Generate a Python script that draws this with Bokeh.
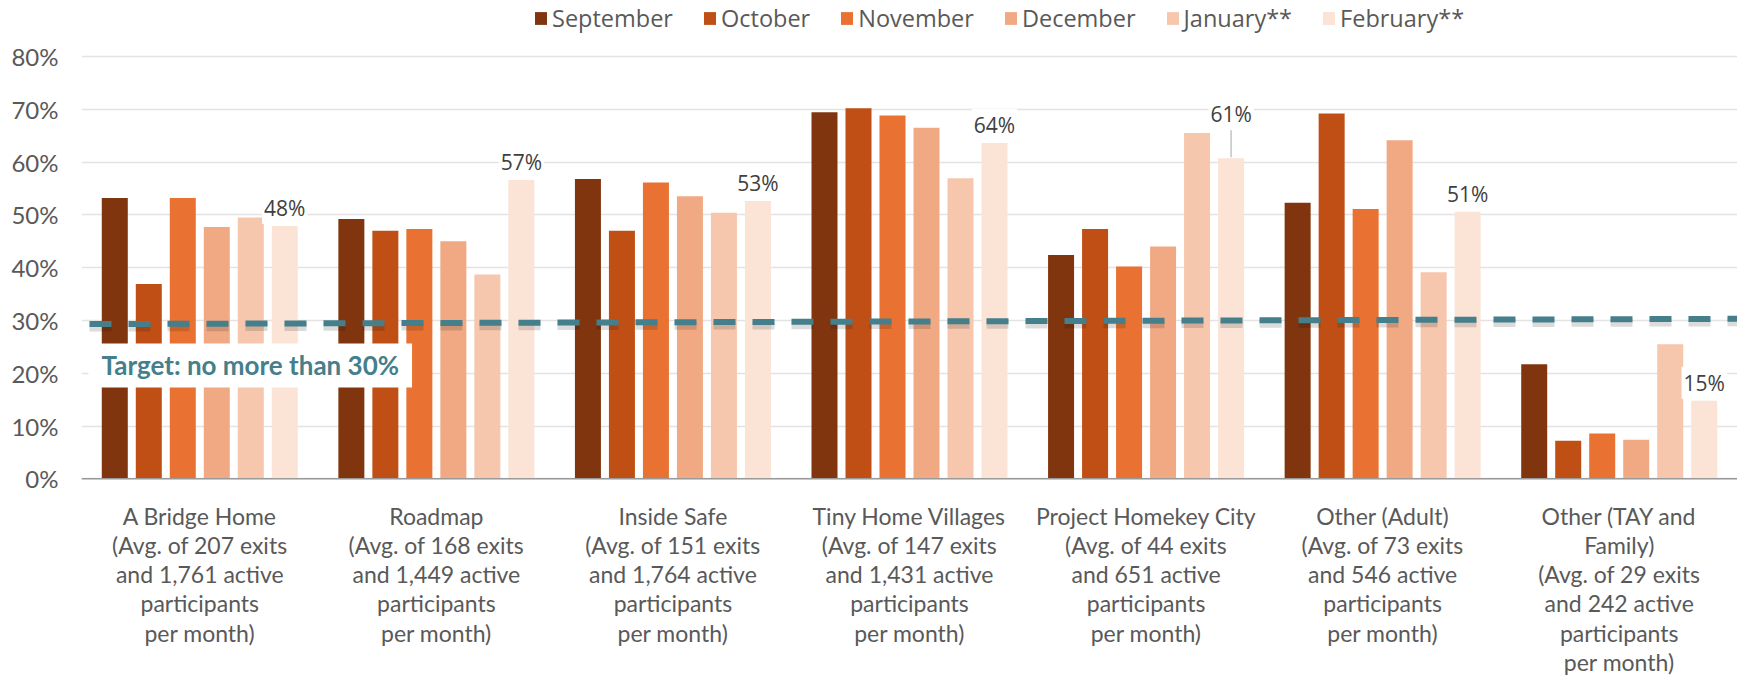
from bokeh.plotting import figure
from bokeh.models import (ColumnDataSource, Range1d, FixedTicker, NumeralTickFormatter,
                          Label, LabelSet, Span)
from bokeh.core.properties import value
from bokeh.embed import file_html
from bokeh.resources import INLINE

# ---------------- data ----------------
programs = ["A Bridge Home", "Roadmap", "Inside Safe", "Tiny Home Villages",
            "Project Homekey City", "Other (Adult)", "Other (TAY and Family)"]
program_labels = [
    "A Bridge Home\n(Avg. of 207 exits\nand 1,761 active\nparticipants\nper month)",
    "Roadmap\n(Avg. of 168 exits\nand 1,449 active\nparticipants\nper month)",
    "Inside Safe\n(Avg. of 151 exits\nand 1,764 active\nparticipants\nper month)",
    "Tiny Home Villages\n(Avg. of 147 exits\nand 1,431 active\nparticipants\nper month)",
    "Project Homekey City\n(Avg. of 44 exits\nand 651 active\nparticipants\nper month)",
    "Other (Adult)\n(Avg. of 73 exits\nand 546 active\nparticipants\nper month)",
    "Other (TAY and\nFamily)\n(Avg. of 29 exits\nand 242 active\nparticipants\nper month)",
]
months = ["September", "October", "November", "December", "January**", "February**"]
september = [0.532, 0.492, 0.568, 0.694, 0.424, 0.523, 0.217]
october   = [0.369, 0.470, 0.470, 0.702, 0.473, 0.692, 0.072]
november  = [0.532, 0.473, 0.561, 0.688, 0.402, 0.511, 0.086]
december  = [0.477, 0.450, 0.535, 0.665, 0.440, 0.641, 0.074]
january   = [0.495, 0.387, 0.504, 0.569, 0.655, 0.391, 0.255]
february  = [0.479, 0.566, 0.526, 0.636, 0.607, 0.506, 0.148]
february_labels = ["48%", "57%", "53%", "64%", "61%", "51%", "15%"]
y_ticks = [0, 0.1, 0.2, 0.3, 0.4, 0.5, 0.6, 0.7, 0.8]
target = 0.30
target_line = [0.293, 0.303]   # drawn line drifts slightly upward left->right
target_text = "Target: no more than 30%"

series = [september, october, november, december, january, february]

# ---------------- styles / layout ----------------
colors = ["#80350E", "#C04F15", "#E97132", "#F1A983", "#F6C6AD", "#FBE3D6"]
TEAL = "#467F8C"
W, H = 1737, 676
BL = 81
PX_X = (W - BL) / 7.0      # px per group
PX_Y = 528.0               # px per 100%
ZERO_Y = 478.3             # px from top where 0% sits
y_end = ZERO_Y / PX_Y
y_start = -(H - ZERO_Y) / PX_Y
pitch = 34 / PX_X
bar_w = 26 / PX_X
label_lift = {"Project Homekey City": 44}
LINE0 = 37      # px below axis of first label line centre
LINE_STEP = 29.2

p = figure(width=W, height=H, output_backend="svg", toolbar_location=None,
           x_range=Range1d(0, 7.0), y_range=Range1d(y_start, y_end),
           x_axis_location=None,
           min_border_left=BL, min_border_right=0, min_border_top=0, min_border_bottom=0)
p.outline_line_color = None
p.background_fill_color = "white"
p.border_fill_color = "white"
p.xgrid.grid_line_color = None

centers = [i + 0.5 for i in range(len(programs))]

for j, (vals, month, col) in enumerate(zip(series, months, colors)):
    xs = [c + (j - 2.5) * pitch for c in centers]
    src = ColumnDataSource(dict(x=xs, top=vals))
    p.vbar(x="x", top="top", width=bar_w, source=src, fill_color=col,
           line_color=None, legend_label=month)

# x axis line
p.add_layout(Span(location=0, dimension="width", line_color="#9A9A9A", line_width=1.5))

# target line with soft shadow
tx = [8 / PX_X, 7.0]
shadow_off = 3.5 / PX_Y
p.line(tx, [v - shadow_off for v in target_line], line_color="#000000", line_alpha=0.14,
       line_width=8, line_dash="22 17")
p.line(tx, target_line, line_color=TEAL, line_width=6, line_dash="22 17")

# leader lines + data labels for February
feb_x = [c + 2.5 * pitch for c in centers]
for prog, fx, fv, txt in zip(programs, feb_x, february, february_labels):
    lift = label_lift.get(prog, 18)
    if prog in label_lift:
        p.segment(x0=[fx], y0=[fv + 1 / PX_Y], x1=[fx], y1=[fv + 30 / PX_Y],
                  line_color="#A6A6A6", line_width=1)
    p.add_layout(Label(x=fx, y=fv, y_offset=lift, text=txt, text_align="center",
                       text_baseline="middle", text_font="Open Sans",
                       text_font_size="21px", text_color="#404040",
                       background_fill_color="white", padding=2))

# target label
p.add_layout(Label(x=7, x_units="screen", y=target, y_offset=-45, text=target_text,
                   text_align="left", text_baseline="middle", text_font="Lato",
                   text_font_style="bold", text_font_size="26px", text_color=TEAL,
                   background_fill_color="white", padding=(13, 6)))

# category labels under the axis (one centred line per label set)
split_labels = [lbl.split("\n") for lbl in program_labels]
n_lines = max(len(s) for s in split_labels)
for k in range(n_lines):
    xs = [c for c, s in zip(centers, split_labels) if len(s) > k]
    ts = [s[k] for s in split_labels if len(s) > k]
    src = ColumnDataSource(dict(x=xs, y=[0] * len(xs), text=ts))
    p.add_layout(LabelSet(x="x", y="y", text="text", source=src,
                          y_offset=-(LINE0 + k * LINE_STEP),
                          text_align="center", text_baseline="middle",
                          text_font=value("Lato"), text_font_size=value("23px"),
                          text_color="#595959"))

# y axis
p.yaxis.ticker = FixedTicker(ticks=y_ticks)
p.yaxis.formatter = NumeralTickFormatter(format="0%")
p.yaxis.axis_line_color = None
p.yaxis.major_tick_line_color = None
p.yaxis.minor_tick_line_color = None
p.yaxis.major_label_standoff = 17
p.yaxis.major_label_text_font = "Lato"
p.yaxis.major_label_text_font_size = "24px"
p.yaxis.major_label_text_color = "#595959"
p.ygrid.grid_line_color = "#E3E3E3"
p.ygrid.grid_line_width = 1.5

# legend
lg = p.legend[0]
lg.orientation = "horizontal"
lg.location = (452, H - 34)
lg.padding = 0
lg.margin = 0
lg.spacing = 29
lg.label_standoff = 4
lg.glyph_width = 15
lg.glyph_height = 16
lg.border_line_color = None
lg.background_fill_alpha = 0
lg.label_text_font = "Open Sans"
lg.label_text_font_size = "23.5px"
lg.label_text_color = "#595959"

open("out.html", "w").write(file_html(p, INLINE))
